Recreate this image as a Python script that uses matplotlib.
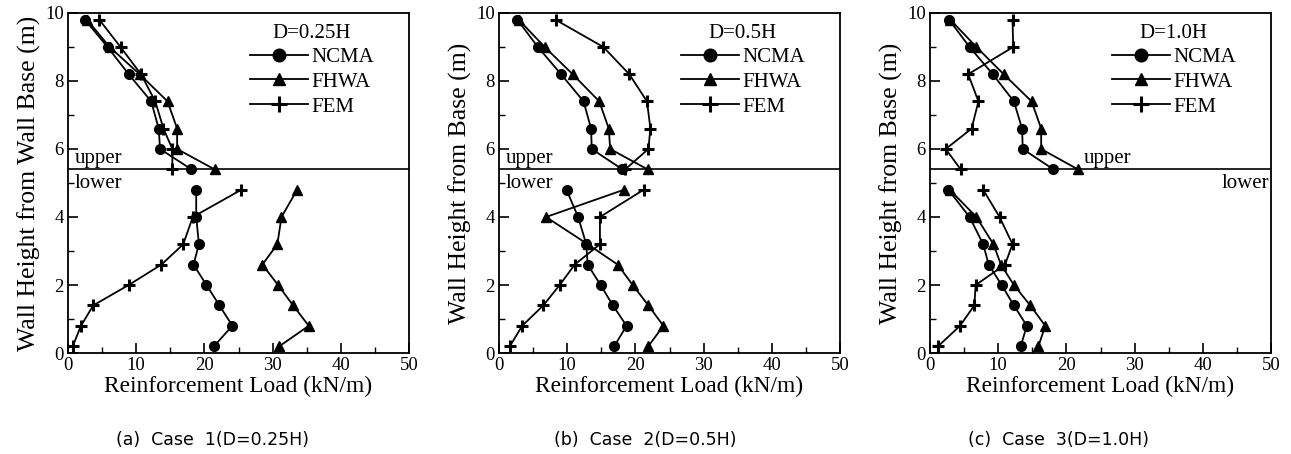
import matplotlib
matplotlib.use("Agg")
import matplotlib.pyplot as plt
from matplotlib.ticker import MultipleLocator

plt.rcParams['font.family'] = ['Liberation Serif', 'DejaVu Serif']

h_upper = [5.4, 6.0, 6.6, 7.4, 8.2, 9.0, 9.8]
h_lower = [0.2, 0.8, 1.4, 2.0, 2.6, 3.2, 4.0, 4.8]

# Case 1 (D=0.25H)
c1_ncma_up = [18.1, 13.5, 13.3, 12.2, 8.9, 5.8, 2.5]
c1_fhwa_up = [21.5, 16.0, 16.0, 14.6, 10.5, 6.1, 2.8]
c1_fem_up = [15.3, 15.3, 14.0, 12.8, 10.7, 7.7, 4.6]
c1_ncma_lo = [21.4, 24.1, 22.2, 20.3, 18.4, 19.2, 18.8, 18.8]
c1_fhwa_lo = [31.0, 35.3, 33.0, 30.8, 28.5, 30.7, 31.3, 33.6]
c1_fem_lo = [0.7, 1.9, 3.7, 8.9, 13.7, 16.9, 18.3, 25.4]

# Case 2 (D=0.5H)
c2_ncma_up = [18.1, 13.6, 13.5, 12.4, 9.1, 5.7, 2.7]
c2_fhwa_up = [21.8, 16.3, 16.1, 14.7, 10.8, 6.7, 2.9]
c2_fem_up = [18.5, 21.9, 22.2, 21.7, 19.1, 15.3, 8.3]
c2_ncma_lo = [16.9, 18.7, 16.7, 14.9, 13.0, 12.8, 11.6, 9.9]
c2_fhwa_lo = [21.9, 24.1, 21.9, 19.6, 17.4, 13.0, 6.9, 18.3]
c2_fem_lo = [1.6, 3.4, 6.5, 8.9, 11.1, 14.8, 14.8, 21.2]

# Case 3 (D=1.0H)
c3_ncma_up = [18.1, 13.6, 13.5, 12.3, 9.2, 5.8, 2.8]
c3_fhwa_up = [21.7, 16.3, 16.3, 14.9, 10.8, 6.8, 3.0]
c3_fem_up = [4.5, 2.3, 6.1, 7.1, 5.6, 12.2, 12.1]
c3_ncma_lo = [13.3, 14.2, 12.3, 10.5, 8.6, 7.8, 5.8, 2.7]
c3_fhwa_lo = [15.9, 16.9, 14.7, 12.3, 10.4, 9.3, 6.8, 2.9]
c3_fem_lo = [1.2, 4.4, 6.5, 6.7, 11.0, 12.1, 10.2, 7.8]

series_names = ['NCMA', 'FHWA', 'FEM']
legend_titles = ['D=0.25H', 'D=0.5H', 'D=1.0H']
ylabels = ['Wall Height from Wall Base (m)', 'Wall Height from Base (m)', 'Wall Height from Base (m)']
captions = ['(a)  Case  1(D=0.25H)', '(b)  Case  2(D=0.5H)', '(c)  Case  3(D=1.0H)']
boundary = 5.4

cases = [
    (c1_ncma_up, c1_fhwa_up, c1_fem_up, c1_ncma_lo, c1_fhwa_lo, c1_fem_lo),
    (c2_ncma_up, c2_fhwa_up, c2_fem_up, c2_ncma_lo, c2_fhwa_lo, c2_fem_lo),
    (c3_ncma_up, c3_fhwa_up, c3_fem_up, c3_ncma_lo, c3_fhwa_lo, c3_fem_lo),
]

W, H = 1291, 454
fig = plt.figure(figsize=(W / 100, H / 100), dpi=100)
lefts = [68, 499, 930]
cap_x = [213, 645, 1058]
aw, ah = 341, 340
bottom_px = 353

styles = [
    dict(marker='o', markersize=7, markerfacecolor='black', markeredgecolor='black'),
    dict(marker='^', markersize=6.5, markerfacecolor='black', markeredgecolor='black'),
    dict(marker='+', markersize=9, markeredgewidth=2.2, markeredgecolor='black'),
]

for i, data in enumerate(cases):
    ax = fig.add_axes([lefts[i] / W, (H - bottom_px) / H, aw / W, ah / H])
    up = data[:3]
    lo = data[3:]
    handles = []
    for k in range(3):
        hnd, = ax.plot(up[k], h_upper, color='black', lw=1.3, **styles[k], label=series_names[k])
        ax.plot(lo[k], h_lower, color='black', lw=1.3, **styles[k])
        handles.append(hnd)
    ax.axhline(boundary, color='black', lw=1.2)
    ax.set_xlim(0, 50)
    ax.set_ylim(0, 10)
    ax.xaxis.set_major_locator(MultipleLocator(10))
    ax.xaxis.set_minor_locator(MultipleLocator(5))
    ax.yaxis.set_major_locator(MultipleLocator(2))
    ax.yaxis.set_minor_locator(MultipleLocator(1))
    ax.tick_params(which='major', direction='in', length=7, width=1.2, labelsize=13.5,
                   top=False, right=False, pad=3)
    ax.tick_params(which='minor', direction='in', length=4, width=1.0, top=False, right=False)
    for s in ax.spines.values():
        s.set_linewidth(1.3)
    ax.set_xlabel('Reinforcement Load (kN/m)', fontsize=16.8, labelpad=1)
    ax.set_ylabel(ylabels[i], fontsize=18.5, labelpad=3)
    leg = ax.legend(handles=handles, title=legend_titles[i], loc='upper right',
                    bbox_to_anchor=(0.94, 1.01), frameon=False, fontsize=15,
                    title_fontsize=15, handlelength=2.8, handletextpad=0.15,
                    labelspacing=0.25, markerscale=1.3, borderaxespad=0.3)
    leg._legend_box.sep = 3
    if i < 2:
        ax.text(1.0, 5.72, 'upper', fontsize=15, va='center', ha='left')
        ax.text(1.0, 4.98, 'lower', fontsize=15, va='center', ha='left')
    else:
        ax.text(22.5, 5.72, 'upper', fontsize=15, va='center', ha='left')
        ax.text(42.8, 4.98, 'lower', fontsize=15, va='center', ha='left')
    fig.text(cap_x[i] / W, (H - 440) / H, captions[i], fontsize=12.5,
             family=['DejaVu Sans'], ha='center', va='center')

fig.savefig('out.png', dpi=100)
